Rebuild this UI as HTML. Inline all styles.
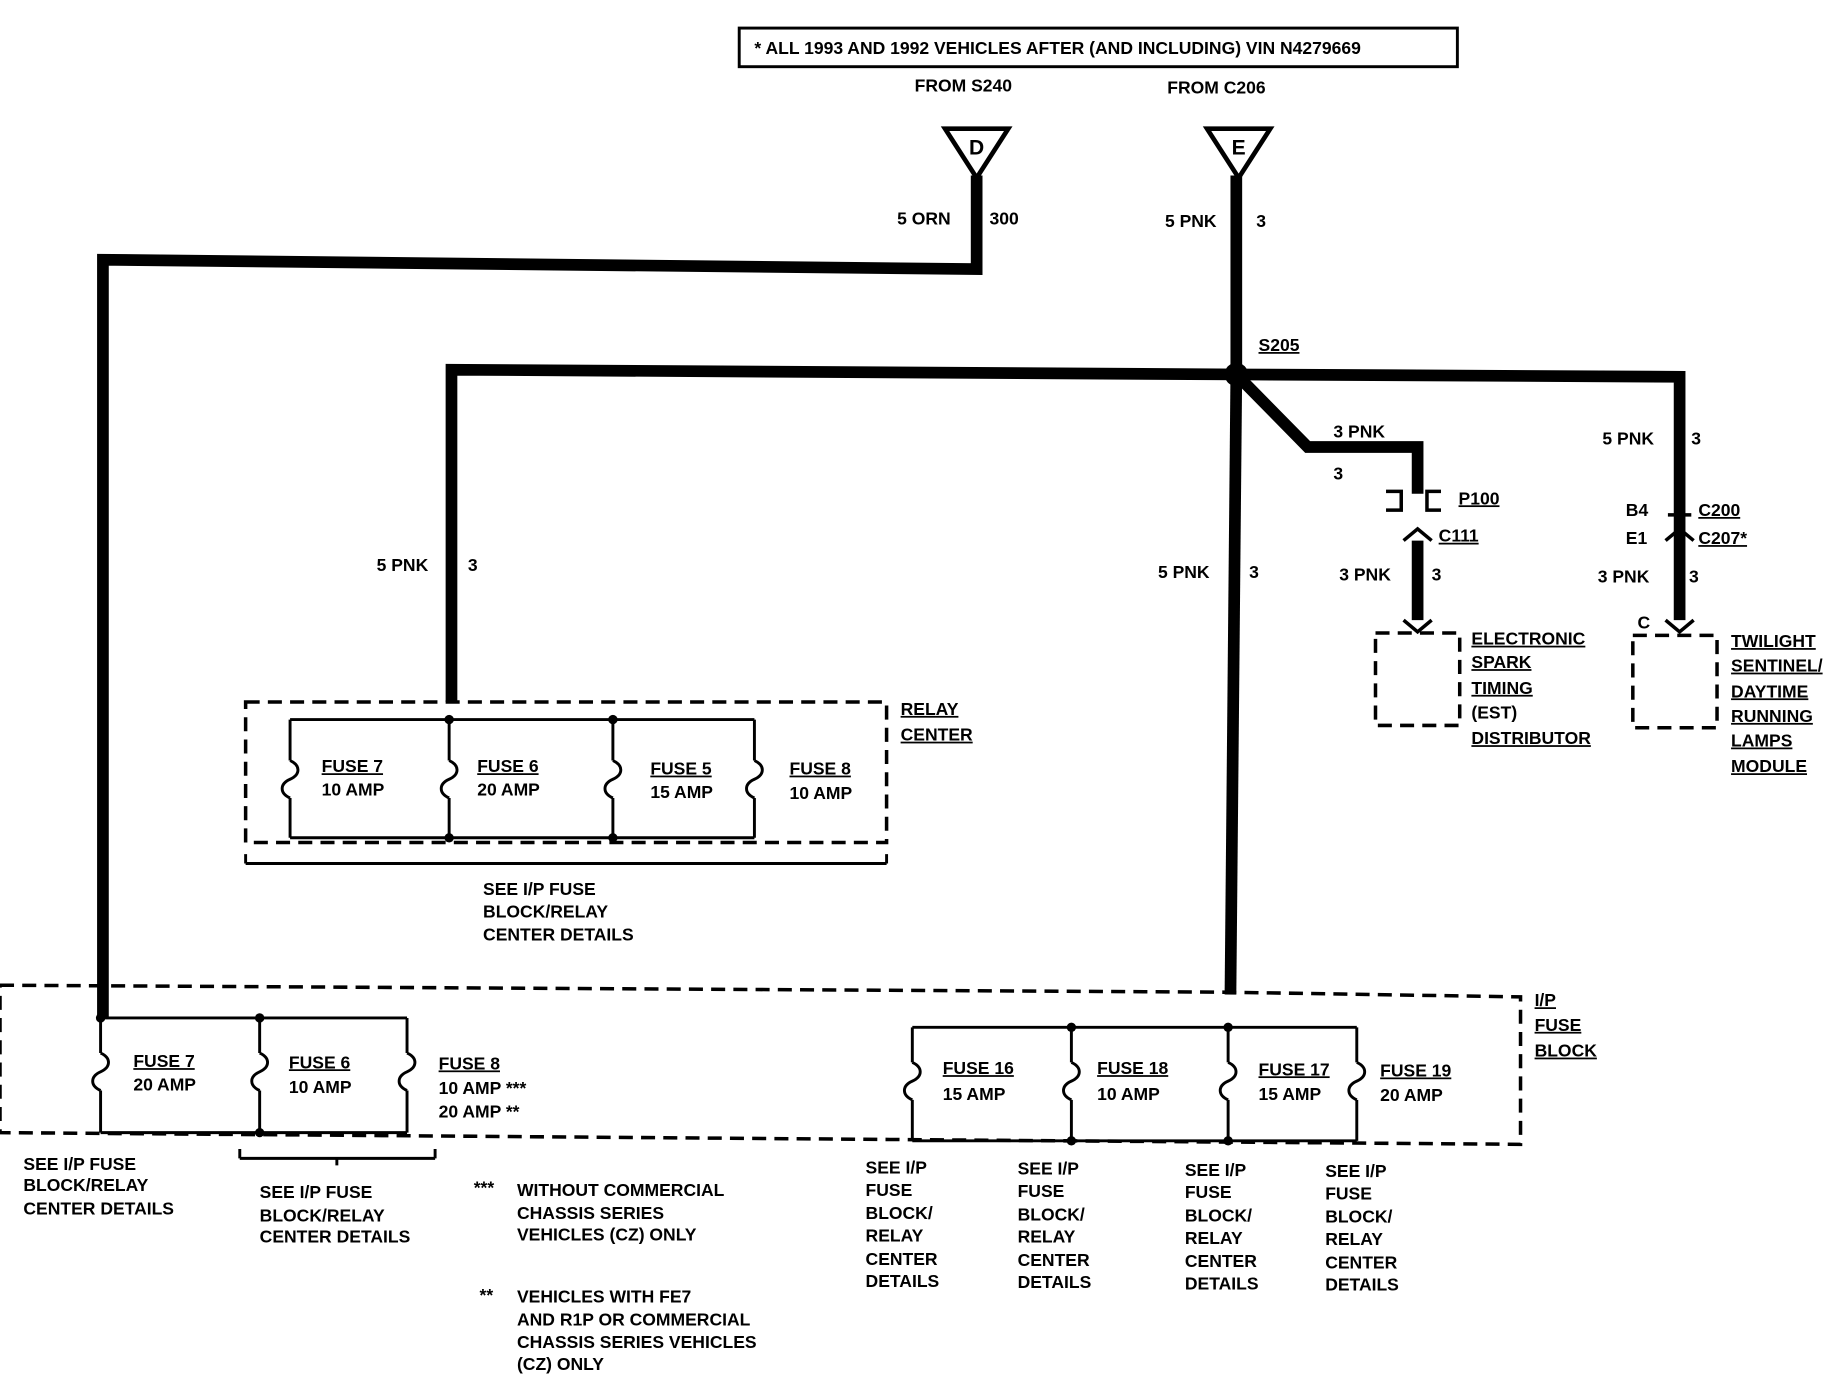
<!DOCTYPE html>
<html><head><meta charset="utf-8"><style>
html,body{margin:0;padding:0;background:#fff}
svg{display:block}
text{font-family:"Liberation Sans",sans-serif;font-weight:bold;font-size:15px;fill:#000}
</style></head><body>
<svg width="1834" height="1376" viewBox="0 0 1568 1176" preserveAspectRatio="none" xmlns="http://www.w3.org/2000/svg">
<defs>
<g id="fz"><path d="M0,-16 C9,-12 9,-4 0,0 C-9,4 -9,12 0,16" fill="none" stroke="#000" stroke-width="2.5"/></g>
</defs>
<rect x="632" y="24" width="614" height="33" fill="none" stroke="#000" stroke-width="2.5"/>
<text x="645" y="46">* ALL 1993 AND 1992 VEHICLES AFTER (AND INCLUDING) VIN N4279669</text>
<text x="782" y="78">FROM S240</text>
<text x="998" y="80">FROM C206</text>
<polygon points="808,110 862,110 835,152" fill="#fff" stroke="#000" stroke-width="4"/>
<text x="835" y="132" text-anchor="middle" style="font-size:18px">D</text>
<polygon points="1032,110 1086,110 1059,152" fill="#fff" stroke="#000" stroke-width="4"/>
<text x="1059" y="132" text-anchor="middle" style="font-size:18px">E</text>
<g fill="none" stroke="#000" stroke-width="10">
<polyline points="835,150 835,230 88,222 88,870"/>
<polyline points="1057,150 1057,320"/>
<polyline points="1057,320 386,316 386,600"/>
<polyline points="1057,320 1436,322 1436,530"/>
<polyline points="1057,320 1118,382 1212,382 1212,422"/>
<polyline points="1212,462 1212,530"/>
<polyline points="1057,320 1052,850"/>
</g>
<circle cx="1057" cy="320" r="10" fill="#000"/>
<text x="767" y="192">5 ORN</text><text x="846" y="192">300</text>
<text x="996" y="194">5 PNK</text><text x="1074" y="194">3</text>
<text x="1076" y="300" text-decoration="underline">S205</text>
<text x="322" y="488">5 PNK</text><text x="400" y="488">3</text>
<text x="990" y="494">5 PNK</text><text x="1068" y="494">3</text>
<text x="1140" y="374">3 PNK</text><text x="1140" y="410">3</text>
<text x="1247" y="431" text-decoration="underline">P100</text>
<text x="1230" y="463" text-decoration="underline">C111</text>
<text x="1145" y="496">3 PNK</text><text x="1224" y="496">3</text>
<text x="1370" y="380">5 PNK</text><text x="1446" y="380">3</text>
<text x="1390" y="441">B4</text><text x="1452" y="441" text-decoration="underline">C200</text>
<text x="1390" y="465">E1</text><text x="1452" y="465" text-decoration="underline">C207*</text>
<text x="1366" y="498">3 PNK</text><text x="1444" y="498">3</text>
<text x="1400" y="537">C</text>
<g fill="none" stroke="#000" stroke-width="3">
<path d="M1185,420 H1198 V436 H1185 M1232,420 H1220 V436 H1232"/>
<path d="M1200,462 L1212,452 L1224,462 M1424,462 L1436,452 L1448,462"/>
<path d="M1426,440 H1446"/>
<path d="M1200,530 L1212,540 L1224,530 M1424,530 L1436,540 L1448,530"/>
</g>
<g fill="none" stroke="#000" stroke-width="3" stroke-dasharray="12,7">
<rect x="1176" y="541" width="72" height="79"/>
<rect x="1396" y="543" width="72" height="79"/>
<rect x="210" y="600" width="548" height="120"/>
<polygon points="0,842 1050,848 1300,852 1300,978 0,968"/>
</g>
<g>
<text x="1258" y="551" text-decoration="underline">ELECTRONIC</text>
<text x="1258" y="571" text-decoration="underline">SPARK</text>
<text x="1258" y="593" text-decoration="underline">TIMING</text>
<text x="1258" y="614">(EST)</text>
<text x="1258" y="636" text-decoration="underline">DISTRIBUTOR</text>
<text x="1480" y="553" text-decoration="underline">TWILIGHT</text>
<text x="1480" y="574" text-decoration="underline">SENTINEL/</text>
<text x="1480" y="596" text-decoration="underline">DAYTIME</text>
<text x="1480" y="617" text-decoration="underline">RUNNING</text>
<text x="1480" y="638" text-decoration="underline">LAMPS</text>
<text x="1480" y="660" text-decoration="underline">MODULE</text>
</g>
<!-- relay center -->
<g fill="none" stroke="#000" stroke-width="2.5">
<path d="M248,615 H645 M248,716 H645"/>
<path d="M248,615 V650 M248,682 V716 M384,615 V650 M384,682 V716 M524,615 V650 M524,682 V716 M645,615 V650 M645,682 V716"/>
<path d="M210,738 H758 M210,730 V738 M758,730 V738"/>
<path d="M86,870 H348 M86,968 H348 M86,870 V900 M86,932 V968 M222,870 V900 M222,932 V968 M348,870 V900 M348,932 V968"/>
<path d="M780,878 H1160 M780,975 H1160 M780,878 V908 M780,940 V975 M916,878 V908 M916,940 V975 M1050,878 V908 M1050,940 V975 M1160,878 V908 M1160,940 V975"/>
<path d="M205,990 H372 M205,982 V990 M372,982 V990 M288,990 V996"/>
</g>
<g fill="#000">
<circle cx="384" cy="615" r="4"/><circle cx="524" cy="615" r="4"/><circle cx="384" cy="716" r="4"/><circle cx="524" cy="716" r="4"/>
<circle cx="86" cy="870" r="4"/><circle cx="222" cy="870" r="4"/><circle cx="222" cy="968" r="4"/>
<circle cx="916" cy="878" r="4"/><circle cx="1050" cy="878" r="4"/><circle cx="916" cy="975" r="4"/><circle cx="1050" cy="975" r="4"/>
</g>
<use href="#fz" x="248" y="666"/><use href="#fz" x="384" y="666"/><use href="#fz" x="524" y="666"/><use href="#fz" x="645" y="666"/>
<use href="#fz" x="86" y="916"/><use href="#fz" x="222" y="916"/><use href="#fz" x="348" y="916"/>
<use href="#fz" x="780" y="924"/><use href="#fz" x="916" y="924"/><use href="#fz" x="1050" y="924"/><use href="#fz" x="1160" y="924"/>
<text x="275" y="660" text-decoration="underline">FUSE 7</text><text x="275" y="680">10 AMP</text>
<text x="408" y="660" text-decoration="underline">FUSE 6</text><text x="408" y="680">20 AMP</text>
<text x="556" y="662" text-decoration="underline">FUSE 5</text><text x="556" y="682">15 AMP</text>
<text x="675" y="662" text-decoration="underline">FUSE 8</text><text x="675" y="683">10 AMP</text>
<text x="770" y="611" text-decoration="underline">RELAY</text><text x="770" y="633" text-decoration="underline">CENTER</text>
<text x="413" y="765">SEE I/P FUSE</text><text x="413" y="784">BLOCK/RELAY</text><text x="413" y="804">CENTER DETAILS</text>
<text x="114" y="912" text-decoration="underline">FUSE 7</text><text x="114" y="932">20 AMP</text>
<text x="247" y="913" text-decoration="underline">FUSE 6</text><text x="247" y="934">10 AMP</text>
<text x="375" y="914" text-decoration="underline">FUSE 8</text><text x="375" y="935">10 AMP ***</text><text x="375" y="955">20 AMP **</text>
<text x="806" y="918" text-decoration="underline">FUSE 16</text><text x="806" y="940">15 AMP</text>
<text x="938" y="918" text-decoration="underline">FUSE 18</text><text x="938" y="940">10 AMP</text>
<text x="1076" y="919" text-decoration="underline">FUSE 17</text><text x="1076" y="940">15 AMP</text>
<text x="1180" y="920" text-decoration="underline">FUSE 19</text><text x="1180" y="941">20 AMP</text>
<text x="1312" y="860" text-decoration="underline">I/P</text><text x="1312" y="881" text-decoration="underline">FUSE</text><text x="1312" y="903" text-decoration="underline">BLOCK</text>
<text x="20" y="1000">SEE I/P FUSE</text><text x="20" y="1018">BLOCK/RELAY</text><text x="20" y="1038">CENTER DETAILS</text>
<text x="222" y="1024">SEE I/P FUSE</text><text x="222" y="1044">BLOCK/RELAY</text><text x="222" y="1062">CENTER DETAILS</text>
<text x="405" y="1020">***</text><text x="442" y="1022">WITHOUT COMMERCIAL</text><text x="442" y="1042">CHASSIS SERIES</text><text x="442" y="1060">VEHICLES (CZ) ONLY</text>
<text x="410" y="1112">**</text><text x="442" y="1113">VEHICLES WITH FE7</text><text x="442" y="1133">AND R1P OR COMMERCIAL</text><text x="442" y="1152">CHASSIS SERIES VEHICLES</text><text x="442" y="1171">(CZ)  ONLY</text>
<g>
<text x="740" y="1003">SEE I/P</text><text x="740" y="1022">FUSE</text><text x="740" y="1042">BLOCK/</text><text x="740" y="1061">RELAY</text><text x="740" y="1081">CENTER</text><text x="740" y="1100">DETAILS</text>
<text x="870" y="1004">SEE I/P</text><text x="870" y="1023">FUSE</text><text x="870" y="1043">BLOCK/</text><text x="870" y="1062">RELAY</text><text x="870" y="1082">CENTER</text><text x="870" y="1101">DETAILS</text>
<text x="1013" y="1005">SEE I/P</text><text x="1013" y="1024">FUSE</text><text x="1013" y="1044">BLOCK/</text><text x="1013" y="1063">RELAY</text><text x="1013" y="1083">CENTER</text><text x="1013" y="1102">DETAILS</text>
<text x="1133" y="1006">SEE I/P</text><text x="1133" y="1025">FUSE</text><text x="1133" y="1045">BLOCK/</text><text x="1133" y="1064">RELAY</text><text x="1133" y="1084">CENTER</text><text x="1133" y="1103">DETAILS</text>
</g>
</svg>
</body></html>
